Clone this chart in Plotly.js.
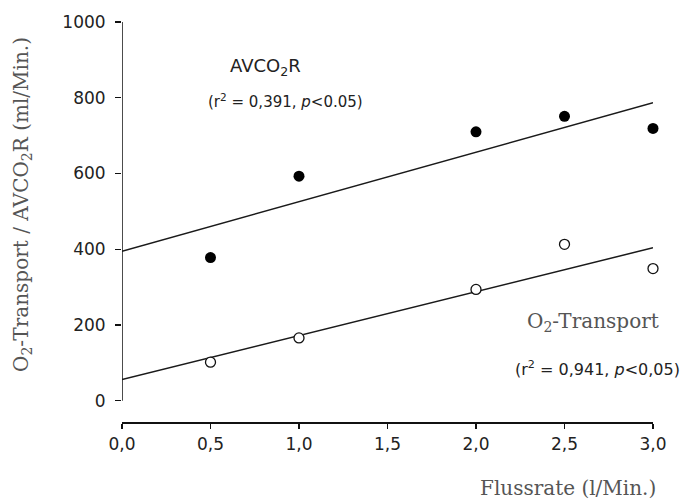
<!DOCTYPE html>
<html>
<head>
<meta charset="utf-8">
<script src="https://cdn.plot.ly/plotly-3.0.1.min.js"></script>
<style>html,body{margin:0;padding:0;background:#fff;}#chart{width:685px;height:504px;}</style>
</head>
<body>
<div id="chart"></div>
<script>
// Flow rate (l/Min.)
const flow = [0.5, 1.0, 2.0, 2.5, 3.0];
// AVCO2R (filled circles), ml/Min.
const avco2r = [378, 593, 710, 751, 719];
// O2-Transport (open circles), ml/Min.
const o2transport = [102, 166, 294, 413, 349];
// Regression line end points
const fitX = [0, 3];
const avco2rFit = [395, 787];
const o2Fit = [56, 404];
// Axis ticks
const xTicks = [0, 0.5, 1.0, 1.5, 2.0, 2.5, 3.0];
const xTickText = ['0,0', '0,5', '1,0', '1,5', '2,0', '2,5', '3,0'];
const yTicks = [0, 200, 400, 600, 800, 1000];

const sans = 'DejaVu Sans, Liberation Sans, Arial, sans-serif';
const serif = 'DejaVu Serif, Liberation Serif, serif';

// pixel helpers for the fixed plot box (l=122, t=22, w=531, h=400)
const px = v => (v - 122) / 531;
const py = v => (422 - v) / 400;

const traces = [
  {x: fitX, y: avco2rFit, mode: 'lines', line: {color: '#1a1a1a', width: 1.5}, hoverinfo: 'skip', cliponaxis: false},
  {x: fitX, y: o2Fit, mode: 'lines', line: {color: '#1a1a1a', width: 1.5}, hoverinfo: 'skip', cliponaxis: false},
  {x: flow, y: avco2r, mode: 'markers', name: 'AVCO2R', cliponaxis: false,
   marker: {symbol: 'circle', size: 11, color: '#000', line: {color: '#000', width: 0}}},
  {x: flow, y: o2transport, mode: 'markers', name: 'O2-Transport', cliponaxis: false,
   marker: {symbol: 'circle', size: 10, color: '#fff', line: {color: '#111', width: 1.3}}}
];

const layout = {
  width: 685, height: 504,
  margin: {l: 122, r: 32, t: 22, b: 82},
  paper_bgcolor: '#fff', plot_bgcolor: '#fff',
  showlegend: false,
  xaxis: {
    range: [0, 3], tickvals: xTicks, ticktext: xTickText,
    showgrid: false, zeroline: false, showline: true, linecolor: '#111', linewidth: 1.5,
    ticks: 'outside', ticklen: 5, tickwidth: 1.3, tickcolor: '#111',
    tickfont: {family: sans, size: 17, color: '#222'}, ticklabelstandoff: 1
  },
  yaxis: {
    range: [-56, 1000], tickvals: yTicks,
    showgrid: false, zeroline: false, showline: false,
    ticks: 'outside', ticklen: 6, tickwidth: 1.3, tickcolor: '#111',
    tickfont: {family: sans, size: 17, color: '#222'}, ticklabelstandoff: 6
  },
  shapes: [
    {type: 'line', xref: 'x', yref: 'y', x0: 0, x1: 0, y0: 0, y1: 1000, line: {color: '#111', width: 1.5}}
  ],
  annotations: [
    {xref: 'paper', yref: 'paper', x: px(22), y: py(205), textangle: -90,
     text: 'O<sub>2</sub>-Transport / AVCO<sub>2</sub>R (ml/Min.)', showarrow: false,
     font: {family: serif, size: 20, color: '#555'}, xanchor: 'center', yanchor: 'middle'},
    {xref: 'paper', yref: 'paper', x: px(658), y: py(488),
     text: 'Flussrate (l/Min.)', showarrow: false,
     font: {family: serif, size: 20, color: '#555'}, xanchor: 'right', yanchor: 'middle'},
    {xref: 'paper', yref: 'paper', x: px(265), y: py(67), text: 'AVCO<sub>2</sub>R', showarrow: false,
     font: {family: sans, size: 18, color: '#222'}, xanchor: 'center', yanchor: 'middle'},
    {xref: 'paper', yref: 'paper', x: px(285), y: py(101), text: '(r<sup>2</sup> = 0,391, <i>p</i><0.05)', showarrow: false,
     font: {family: sans, size: 15, color: '#222'}, xanchor: 'center', yanchor: 'middle'},
    {xref: 'paper', yref: 'paper', x: px(593), y: py(322), text: 'O<sub>2</sub>-Transport', showarrow: false,
     font: {family: serif, size: 20, color: '#555'}, xanchor: 'center', yanchor: 'middle'},
    {xref: 'paper', yref: 'paper', x: px(597), y: py(368), text: '(r<sup>2</sup> = 0,941, <i>p</i><0,05)', showarrow: false,
     font: {family: sans, size: 16, color: '#222'}, xanchor: 'center', yanchor: 'middle'}
  ]
};

Plotly.newPlot('chart', traces, layout, {displayModeBar: false, staticPlot: true});
</script>
</body>
</html>
